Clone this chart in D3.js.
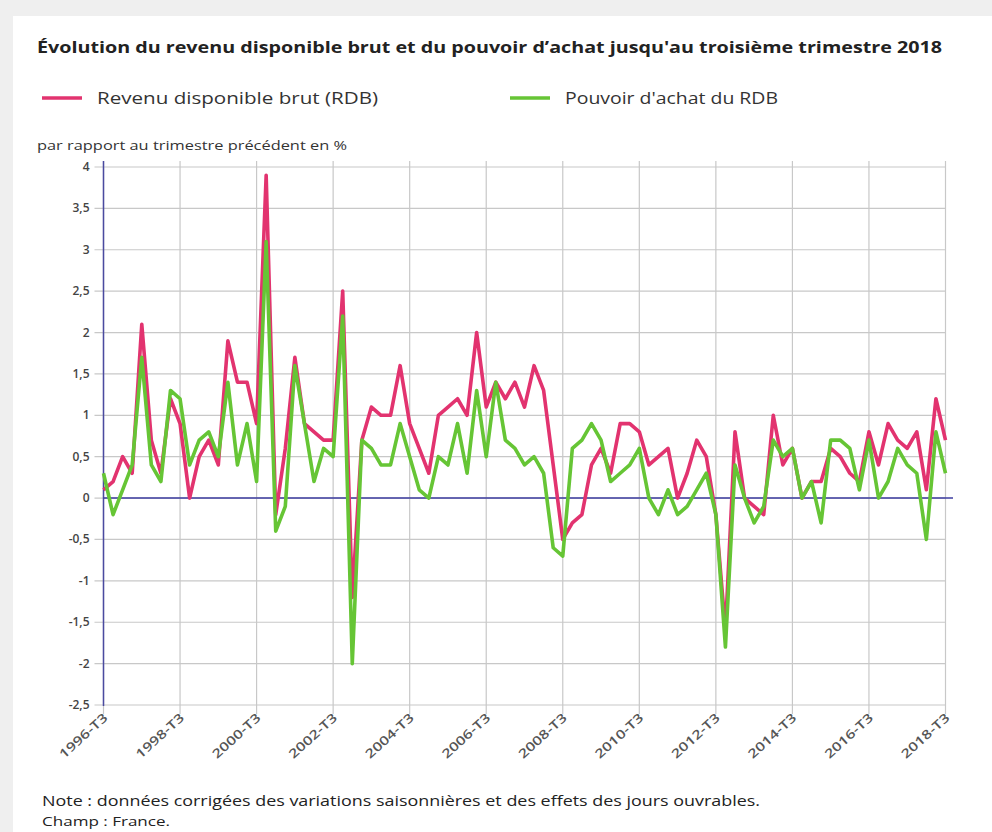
<!DOCTYPE html>
<html><head><meta charset="utf-8">
<script src="https://cdn.jsdelivr.net/npm/d3@7"></script>
<style>
html,body{margin:0;padding:0;background:#efefef;}
svg{display:block;}
text{font-family:"Open Sans",sans-serif;}
</style></head>
<body>
<svg id="chart" width="992" height="832"></svg>
<script>
const startYear = 1996, startQuarter = 3;
const tickLabels = ["1996-T3","1998-T3","2000-T3","2002-T3","2004-T3","2006-T3","2008-T3","2010-T3","2012-T3","2014-T3","2016-T3","2018-T3"];
const yTicks = [4,3.5,3,2.5,2,1.5,1,0.5,0,-0.5,-1,-1.5,-2,-2.5];
const rdb = [0.1,0.2,0.5,0.3,2.1,0.7,0.3,1.2,0.9,0.0,0.5,0.7,0.4,1.9,1.4,1.4,0.9,3.9,-0.2,0.6,
  1.7,0.9,0.8,0.7,0.7,2.5,-1.2,0.7,1.1,1.0,1.0,1.6,0.9,0.6,0.3,1.0,1.1,1.2,1.0,2.0,
  1.1,1.4,1.2,1.4,1.1,1.6,1.3,0.4,-0.5,-0.3,-0.2,0.4,0.6,0.3,0.9,0.9,0.8,0.4,0.5,0.6,
  0.0,0.3,0.7,0.5,-0.2,-1.6,0.8,0.0,-0.1,-0.2,1.0,0.4,0.6,0.0,0.2,0.2,0.6,0.5,0.3,0.2,
  0.8,0.4,0.9,0.7,0.6,0.8,0.1,1.2,0.7];
const pouvoirAchat = [0.3,-0.2,0.1,0.4,1.7,0.4,0.2,1.3,1.2,0.4,0.7,0.8,0.5,1.4,0.4,0.9,0.2,3.1,-0.4,-0.1,
  1.6,0.9,0.2,0.6,0.5,2.2,-2.0,0.7,0.6,0.4,0.4,0.9,0.5,0.1,0.0,0.5,0.4,0.9,0.3,1.3,
  0.5,1.4,0.7,0.6,0.4,0.5,0.3,-0.6,-0.7,0.6,0.7,0.9,0.7,0.2,0.3,0.4,0.6,0.0,-0.2,0.1,
  -0.2,-0.1,0.1,0.3,-0.2,-1.8,0.4,0.0,-0.3,-0.1,0.7,0.5,0.6,0.0,0.2,-0.3,0.7,0.7,0.6,0.1,
  0.7,0.0,0.2,0.6,0.4,0.3,-0.5,0.8,0.3];
const seriesNames = ["Revenu disponible brut (RDB)","Pouvoir d'achat du RDB"];
const colors = ["#e2336f","#66c535"];

(function(){
const quarters = rdb.map((_,i)=>{
  const q = startQuarter - 1 + i;
  return (startYear + Math.floor(q/4)) + "-T" + (q%4 + 1);
});

const svg = d3.select("#chart");
svg.append("rect").attr("x",13).attr("y",16).attr("width",992-13).attr("height",832-16).attr("fill","#ffffff");

const pl = 103.5, pr = 945.5, pt = 167, pb = 705;
const x = d3.scalePoint().domain(quarters).range([pl,pr]);
const y = d3.scaleLinear().domain([-2.5,4]).range([pb,pt]);
const fmt = v => String(v).replace(".",",");

svg.append("text").attr("x",37).attr("y",53).attr("font-size",16).attr("font-weight",700)
  .attr("fill","#222").attr("textLength",905).attr("lengthAdjust","spacingAndGlyphs")
  .text("Évolution du revenu disponible brut et du pouvoir d’achat jusqu'au troisième trimestre 2018");

const legX = [42,510];
const legW = [281,213];
seriesNames.forEach((n,i)=>{
  svg.append("line").attr("x1",legX[i]).attr("x2",legX[i]+40).attr("y1",98).attr("y2",98)
    .attr("stroke",colors[i]).attr("stroke-width",3.5);
  svg.append("text").attr("x",legX[i]+55).attr("y",104).attr("font-size",16).attr("fill","#333")
    .attr("textLength",legW[i]).attr("lengthAdjust","spacingAndGlyphs").text(n);
});

svg.append("text").attr("x",37).attr("y",150).attr("font-size",12).attr("fill","#333")
  .attr("textLength",310).attr("lengthAdjust","spacingAndGlyphs")
  .text("par rapport au trimestre précédent en %");

const g = svg.append("g");
g.selectAll("line.h").data(yTicks).join("line").attr("class","h")
  .attr("x1",pl-9).attr("x2",pr).attr("y1",d=>y(d)).attr("y2",d=>y(d))
  .attr("stroke","#c8c8c8").attr("stroke-width",1.2);
g.selectAll("line.v").data(tickLabels).join("line").attr("class","v")
  .attr("x1",d=>x(d)).attr("x2",d=>x(d)).attr("y1",pt-6).attr("y2",pb+9)
  .attr("stroke","#c8c8c8").attr("stroke-width",1.2);

g.selectAll("text.yl").data(yTicks).join("text").attr("class","yl")
  .attr("x",pl-14).attr("y",d=>y(d)+4).attr("text-anchor","end")
  .attr("font-size",12).attr("font-weight",600).attr("fill","#444").text(d=>fmt(d));

g.selectAll("text.xl").data(tickLabels).join("text").attr("class","xl")
  .attr("transform",d=>`translate(${x(d)+5},${pb+14}) rotate(-42)`)
  .attr("text-anchor","end").attr("font-size",12.5).attr("font-weight",600).attr("fill","#555")
  .attr("textLength",60).attr("lengthAdjust","spacingAndGlyphs").text(d=>d);

svg.append("line").attr("x1",pl).attr("x2",pl).attr("y1",pt-6).attr("y2",pb+1)
  .attr("stroke","#4a4aa0").attr("stroke-width",1.5);
svg.append("line").attr("x1",pl).attr("x2",953).attr("y1",y(0)).attr("y2",y(0))
  .attr("stroke","#3c3ca0").attr("stroke-width",1.5);

const line = d3.line().x((d,i)=>x(quarters[i])).y(d=>y(d));
[rdb,pouvoirAchat].forEach((s,i)=>{
  svg.append("path").datum(s).attr("d",line).attr("fill","none")
    .attr("stroke",colors[i]).attr("stroke-width",3.6).attr("stroke-linejoin","round");
});

svg.append("text").attr("x",42).attr("y",806).attr("font-size",14).attr("fill","#222")
  .attr("textLength",718).attr("lengthAdjust","spacingAndGlyphs")
  .text("Note : données corrigées des variations saisonnières et des effets des jours ouvrables.");
svg.append("text").attr("x",42).attr("y",826).attr("font-size",13.5).attr("fill","#222")
  .attr("textLength",128).attr("lengthAdjust","spacingAndGlyphs")
  .text("Champ : France.");
})();
</script>
</body></html>
